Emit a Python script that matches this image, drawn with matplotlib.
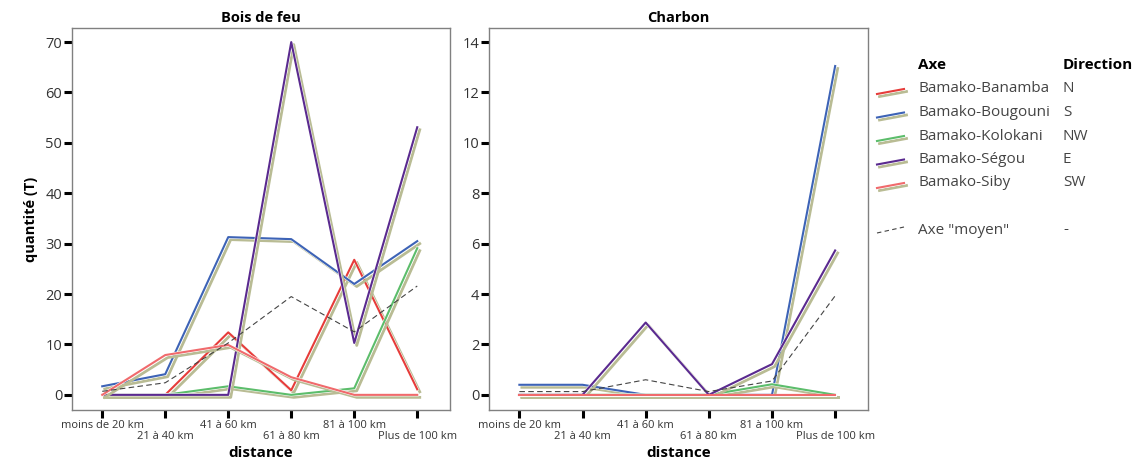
import numpy as np
import matplotlib.pyplot as plt
import matplotlib.patheffects as pe
from matplotlib.lines import Line2D

plt.rcParams['font.family'] = ['Open Sans', 'DejaVu Sans']

distances = ['moins de 20 km', '21 à 40 km', '41 à 60 km', '61 à 80 km', '81 à 100 km', 'Plus de 100 km']
axes_names = ['Bamako-Banamba', 'Bamako-Bougouni', 'Bamako-Kolokani', 'Bamako-Ségou', 'Bamako-Siby']
directions = ['N', 'S', 'NW', 'E', 'SW']
colors = ['#e63c3a', '#3d63b6', '#5cbd6b', '#5a2a8f', '#f06a6c']

# Bois de feu (T)
bois_banamba = [0, 0, 12.4, 0.9, 26.8, 1.1]
bois_bougouni = [1.7, 4.1, 31.3, 30.9, 22.0, 30.5]
bois_kolokani = [0, 0, 1.7, 0, 1.3, 29.1]
bois_segou = [0, 0, 0, 70.0, 10.3, 53.1]
bois_siby = [0, 7.9, 9.9, 3.5, 0, 0]
bois_moyen = [0.7, 2.4, 10.3, 19.5, 12.5, 21.6]

# Charbon (T)
charb_banamba = [0, 0, 0, 0, 0, 0]
charb_bougouni = [0.4, 0.4, 0, 0, 0, 13.05]
charb_kolokani = [0, 0, 0, 0, 0.42, 0]
charb_segou = [0, 0, 2.87, 0, 1.22, 5.73]
charb_siby = [0, 0, 0, 0, 0, 0]
charb_moyen = [0.13, 0.13, 0.6, 0.13, 0.55, 3.93]

panels = [
    ('Bois de feu', [bois_banamba, bois_bougouni, bois_kolokani, bois_segou, bois_siby], bois_moyen,
     (-3.0, 72.8), np.arange(0, 71, 10)),
    ('Charbon', [charb_banamba, charb_bougouni, charb_kolokani, charb_segou, charb_siby], charb_moyen,
     (-0.6, 14.56), np.arange(0, 15, 2)),
]

shadow = '#b9bc94'
effects = [pe.SimpleLineShadow(offset=(1.8, -1.8), shadow_color=shadow, alpha=1, linewidth=2.0),
           pe.Stroke(linewidth=2.2, foreground='white'), pe.Normal()]

fig = plt.figure(figsize=(11.48, 4.70), dpi=100)
positions = [[0.0627, 0.1277, 0.3293, 0.8128], [0.4260, 0.1277, 0.3301, 0.8128]]

x = np.arange(len(distances))
tick_labels = [d if i % 2 == 0 else '\n' + d for i, d in enumerate(distances)]

for pos, (title, series, moyen, ylim, yticks) in zip(positions, panels):
    ax = fig.add_axes(pos)
    for vals, c in zip(series, colors):
        ax.plot(x, vals, color=c, lw=1.5, path_effects=effects)
    ax.plot(x, moyen, color='#444444', lw=0.8, ls=(0, (5, 3)))
    ax.set_xlim(-0.48, 5.52)
    ax.set_ylim(*ylim)
    ax.set_yticks(yticks)
    ax.set_xticks(x)
    ax.set_xticklabels(tick_labels, fontsize=8, color='#333333', linespacing=1.05)
    ax.tick_params(axis='both', length=6, width=2.2, color='black', labelcolor='#333333', pad=1)
    ax.tick_params(axis='y', labelsize=10.5)
    for s in ax.spines.values():
        s.set_color('#808080')
        s.set_linewidth(1)
    ax.set_title(title, fontsize=10.5, fontweight='bold', pad=4)
    ax.set_xlabel('distance', fontsize=11, fontweight='bold', labelpad=3)
    if title == 'Bois de feu':
        ax.set_ylabel('quantité (T)', fontsize=10.5, fontweight='bold', labelpad=5)

# legend
lax = fig.add_axes([0, 0, 1, 1], facecolor='none')
lax.set_xlim(0, 1148)
lax.set_ylim(470, 0)
lax.axis('off')
fs = 11
lax.text(918, 65, 'Axe', fontsize=fs, fontweight='bold', va='center')
lax.text(1063, 65, 'Direction', fontsize=fs, fontweight='bold', va='center')
for i, (name, d, c) in enumerate(zip(axes_names, directions, colors)):
    yy = 89 + i * 23.5
    lax.add_line(Line2D([877, 904], [yy + 5, yy], color=c, lw=1.5, path_effects=effects))
    lax.text(918, yy, name, fontsize=fs, color='#444444', va='center')
    lax.text(1063, yy, d, fontsize=fs, color='#444444', va='center')
yy = 230
lax.add_line(Line2D([877, 904], [yy + 3, yy - 3], color='#444444', lw=0.8, ls=(0, (4, 3))))
lax.text(918, yy, 'Axe "moyen"', fontsize=fs, color='#444444', va='center')
lax.text(1063, yy, '-', fontsize=fs, color='#444444', va='center')

fig.savefig('out.png', dpi=100)
